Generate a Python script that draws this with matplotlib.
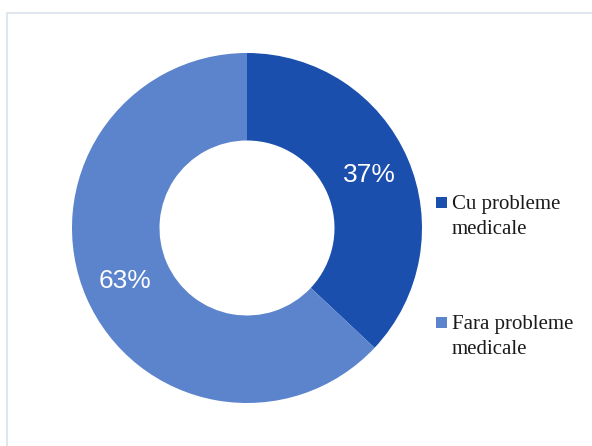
import matplotlib
matplotlib.use("Agg")
from matplotlib import pyplot as plt
from matplotlib.patches import Rectangle

# data
labels = ["Cu probleme\nmedicale", "Fara probleme\nmedicale"]
values = [37, 63]
colors = ["#1b4fae", "#5b84cc"]

W, H = 592, 446
fig = plt.figure(figsize=(W / 100, H / 100), dpi=100)
fig.patch.set_facecolor("white")

# light frame round the chart area
fig.patches.append(Rectangle((7 / W, -0.05), 1.1, 1 - 13 / H + 0.05,
                             transform=fig.transFigure, fill=False,
                             edgecolor="#d9e1ea", linewidth=1.2))

ax = fig.add_axes([72 / W, 1 - 403 / H, 350 / W, 350 / H])
wedges, texts, autotexts = ax.pie(values, colors=colors, startangle=90, counterclock=False,
                                  radius=1.0, wedgeprops=dict(width=0.5, linewidth=0),
                                  autopct="%d%%", pctdistance=0.76,
                                  textprops=dict(color="white", fontsize=19,
                                                 family="Liberation Sans"))
ax.set_xlim(-1, 1)
ax.set_ylim(-1, 1)

# legend drawn by hand: square beside first line of a two-line label
baselines = [209, 329]
for lab, col, yb in zip(labels, colors, baselines):
    fig.patches.append(Rectangle((436 / W, 1 - (yb - 1) / H), 11 / W, 11 / H,
                                 transform=fig.transFigure, facecolor=col,
                                 edgecolor="none"))
    fig.text(452 / W, 1 - yb / H, lab.split("\n")[0], family="Liberation Serif",
             fontsize=15, color="#1a1a1a", va="baseline", ha="left")
    fig.text(452 / W, 1 - (yb + 25) / H, lab.split("\n")[1], family="Liberation Serif",
             fontsize=15, color="#1a1a1a", va="baseline", ha="left")

fig.savefig("out.png", dpi=100)
